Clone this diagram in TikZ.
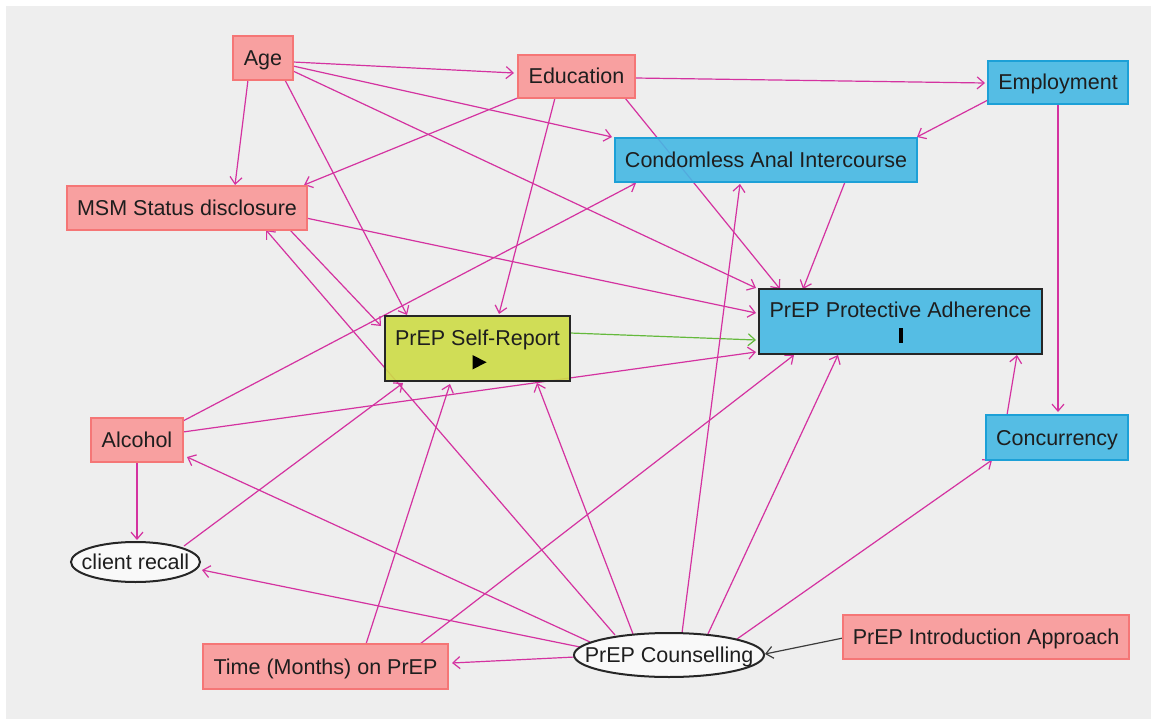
\documentclass[tikz,border=0pt]{standalone}
\usepackage{fontspec}
\setmainfont{Liberation Sans}
\usetikzlibrary{arrows.meta,shapes.geometric}
\definecolor{bgc}{HTML}{EEEEEE}
\definecolor{pinkf}{RGB}{250,152,152}
\definecolor{pinkd}{RGB}{245,118,118}
\definecolor{bluef}{RGB}{69,184,228}
\definecolor{blued}{RGB}{28,160,215}
\definecolor{yelf}{RGB}{205,220,70}
\definecolor{edgec}{RGB}{212,50,160}
\definecolor{greenc}{RGB}{100,185,60}
\definecolor{grayc}{RGB}{60,60,60}
\definecolor{txt}{RGB}{30,30,30}
\definecolor{ellf}{RGB}{250,250,250}
\pgfdeclarelayer{bg}
\pgfdeclarelayer{edges}
\pgfsetlayers{bg,edges,main}
\begin{document}
\begin{tikzpicture}[x=1pt,y=-1pt,
  every node/.style={font=\fontsize{21.5}{25}\selectfont, text=txt, inner sep=0pt,
    text height=15pt, text depth=0pt},
  pinkbox/.style={rectangle, fill=pinkf, draw=pinkd, line width=1.5pt, fill opacity=0.9, text opacity=1},
  bluebox/.style={rectangle, fill=bluef, draw=blued, line width=1.5pt, fill opacity=0.9, text opacity=1},
  outbox/.style={rectangle, draw=black!85, line width=2pt, fill opacity=0.9, text opacity=1, draw opacity=1},
  ovalnode/.style={ellipse, fill=ellf, draw=black!85, line width=2pt, fill opacity=0.95, text opacity=1, draw opacity=1},
  cause/.style={draw=edgec, line width=1.2pt, -{Straight Barb[length=7pt,width=12pt]}},
  causegreen/.style={cause, draw=greenc},
  causegray/.style={cause, draw=grayc},
]
\useasboundingbox (0,0) rectangle (1151,719);
\begin{pgfonlayer}{bg}
\fill[white] (0,0) rectangle (1151,719);
\fill[bgc] (6,6) rectangle (1151,719);
\end{pgfonlayer}

% nodes
\node[pinkbox, minimum width=60pt, minimum height=44pt] (age) at (263,58) {Age};
\node[pinkbox, minimum width=117pt, minimum height=43pt] (edu) at (576.5,76.5) {Education};
\node[bluebox, minimum width=140pt, minimum height=43pt] (emp) at (1058,82.5) {Employment};
\node[bluebox, minimum width=302pt, minimum height=44pt] (cai) at (766,160) {Condomless Anal Intercourse};
\node[pinkbox, minimum width=240pt, minimum height=44pt] (msm) at (187,208) {MSM Status disclosure};
\node[outbox, fill=yelf, minimum width=185pt, minimum height=65pt, text depth=21pt] (sr) at (477.5,348.5) {PrEP Self-Report};
\node[outbox, fill=bluef, minimum width=283pt, minimum height=65pt, text depth=23pt] (adh) at (900.5,321.5) {PrEP Protective Adherence};
\node[pinkbox, minimum width=92pt, minimum height=44pt] (alc) at (137,440) {Alcohol};
\node[bluebox, minimum width=142pt, minimum height=45pt] (conc) at (1057,437.5) {Concurrency};
\node[ovalnode, minimum width=129pt, minimum height=40pt] (cr) at (135.5,562) {\makebox[0pt]{client recall}};
\node[ovalnode, minimum width=190pt, minimum height=44pt] (pc) at (669,655) {\makebox[0pt]{PrEP Counselling}};
\node[pinkbox, minimum width=286pt, minimum height=44pt] (pia) at (986,637) {PrEP Introduction Approach};
\node[pinkbox, minimum width=245pt, minimum height=45pt] (time) at (325.5,666.5) {Time (Months) on PrEP};

% markers inside the outcome/exposure nodes
\fill[black] ([shift={(-5,6.5)}]sr.center) -- ([shift={(-5,21)}]sr.center) -- ([shift={(9,13.75)}]sr.center) -- cycle;
\fill[black] ([shift={(-1.5,6.5)}]adh.center) rectangle ([shift={(2.5,21.5)}]adh.center);

% edges
\begin{pgfonlayer}{edges}
\draw[cause] ([shift={(30,4)}]age.center) -- ([shift={(-62.5,-3.5)}]edu.center);
\draw[cause] ([shift={(30,8)}]age.center) -- ([shift={(-154,-23)}]cai.center);
\draw[cause] ([shift={(30,13)}]age.center) -- ([shift={(-144.5,-33.5)}]adh.center);
\draw[cause] ([shift={(-15,22)}]age.center) -- ([shift={(48,-23)}]msm.center);
\draw[cause] ([shift={(22,22)}]age.center) -- ([shift={(-70.5,-33.5)}]sr.center);
\draw[cause] ([shift={(58.5,1.5)}]edu.center) -- ([shift={(-73,0.5)}]emp.center);
\draw[cause] ([shift={(-56.5,20.5)}]edu.center) -- ([shift={(117,-23)}]msm.center);
\draw[cause] ([shift={(-21.5,21.5)}]edu.center) -- ([shift={(21.5,-34.5)}]sr.center);
\draw[cause] ([shift={(48.5,21.5)}]edu.center) -- ([shift={(-120.5,-32.5)}]adh.center);
\draw[cause] ([shift={(-70,17.5)}]emp.center) -- ([shift={(151,-23)}]cai.center);
\draw[cause] ([shift={(0,21.5)}]emp.center) -- ([shift={(1,-25.5)}]conc.center);
\draw[cause] ([shift={(79,22)}]cai.center) -- ([shift={(-97.5,-32.5)}]adh.center);
\draw[cause] ([shift={(103,22)}]msm.center) -- ([shift={(-96.5,-22.5)}]sr.center);
\draw[cause] ([shift={(119,10)}]msm.center) -- ([shift={(-144.5,-8.5)}]adh.center);
\draw[causegreen] ([shift={(92.5,-15.5)}]sr.center) -- ([shift={(-144.5,18.5)}]adh.center);
\draw[cause] ([shift={(46,-19)}]alc.center) -- ([shift={(-130,23)}]cai.center);
\draw[cause] ([shift={(46,-8)}]alc.center) -- ([shift={(-144.5,30.5)}]adh.center);
\draw[cause] ([shift={(0,22)}]alc.center) -- ([shift={(1.5,-22)}]cr.center);
\draw[cause] ([shift={(48.5,-16)}]cr.center) -- ([shift={(-74.5,34.5)}]sr.center);
\draw[cause] ([shift={(-50,-22.5)}]conc.center) -- ([shift={(116.5,33.5)}]adh.center);
\draw[cause] ([shift={(-79,-13)}]pc.center) -- ([shift={(50,17)}]alc.center);
\draw[cause] ([shift={(-89,-8)}]pc.center) -- ([shift={(66.5,8)}]cr.center);
\draw[cause] ([shift={(-94,2)}]pc.center) -- ([shift={(126.5,-3.5)}]time.center);
\draw[cause] ([shift={(-54,-20)}]pc.center) -- ([shift={(79,22)}]msm.center);
\draw[cause] ([shift={(-36,-21)}]pc.center) -- ([shift={(59.5,34.5)}]sr.center);
\draw[cause] ([shift={(13,-22)}]pc.center) -- ([shift={(-26,24)}]cai.center);
\draw[cause] ([shift={(38,-19)}]pc.center) -- ([shift={(-62.5,33.5)}]adh.center);
\draw[cause] ([shift={(68,-16)}]pc.center) -- ([shift={(-65,22.5)}]conc.center);
\draw[cause] ([shift={(40.5,-22.5)}]time.center) -- ([shift={(-27.5,35.5)}]sr.center);
\draw[cause] ([shift={(94.5,-22.5)}]time.center) -- ([shift={(-106.5,33.5)}]adh.center);
\draw[causegray] ([shift={(-143,1)}]pia.center) -- ([shift={(96,-1)}]pc.center);
\end{pgfonlayer}
\end{tikzpicture}
\end{document}
